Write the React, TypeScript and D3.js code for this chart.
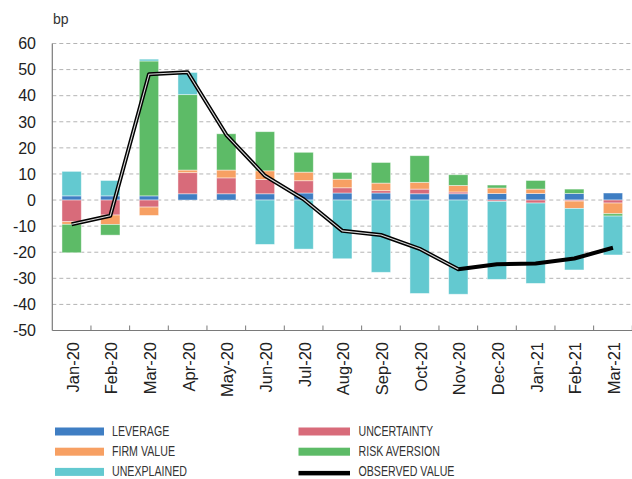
import React from "react";
import * as d3 from "d3";

const categories = ["Jan-20","Feb-20","Mar-20","Apr-20","May-20","Jun-20","Jul-20","Aug-20","Sep-20","Oct-20","Nov-20","Dec-20","Jan-21","Feb-21","Mar-21"];
const leverage = [1.6, 1.6, 1.6, 2.4, 2.4, 2.4, 2.7, 2.7, 2.7, 2.4, 2.4, 2.5, 2.5, 2.5, 2.7];
const uncertainty = [-8.3, -5.75, -2.7, 8.1, 6.1, 5.5, 4.7, 2.0, 0.9, 1.8, 0.7, -0.5, -1.15, -0.4, -1.15];
const firmValue = [-1.0, -3.6, -3.2, 1.0, 3.0, 3.3, 3.3, 3.3, 2.9, 2.6, 2.5, 2.1, 1.7, -2.8, -4.1];
const riskAversion = [-10.9, -4.1, 51.7, 28.9, 13.9, 15.0, 7.6, 2.6, 7.9, 10.2, 4.1, 1.15, 3.3, 1.7, -0.9];
const unexplained = [9.4, 5.9, 0.7, 8.5, 0, -17.0, -18.8, -22.5, -27.7, -35.8, -36.1, -29.9, -30.8, -23.6, -14.9];
const observed = [-9.3, -6.0, 48.2, 49.0, 25.0, 9.3, 0.3, -11.8, -13.4, -18.7, -26.5, -24.6, -24.3, -22.4, -18.3];
const yTicks = [60, 50, 40, 30, 20, 10, 0, -10, -20, -30, -40, -50];

const seriesKeys = ["leverage", "uncertainty", "firmValue", "riskAversion", "unexplained"];
const seriesLabels = ["LEVERAGE", "UNCERTAINTY", "FIRM VALUE", "RISK AVERSION", "UNEXPLAINED"];
const seriesColors = ["#3f7ec3", "#d86b7a", "#f7a063", "#5dbb67", "#63c9d0"];

const W = 632, H = 479;
const left = 52.3, right = 632.3, top = 43.5, bottom = 330.5;

export default function App() {
  const rows = categories.map((c, i) => ({
    cat: c,
    leverage: leverage[i],
    uncertainty: uncertainty[i],
    firmValue: firmValue[i],
    riskAversion: riskAversion[i],
    unexplained: unexplained[i],
  }));
  const x = d3.scaleBand().domain(categories).range([left, right]).paddingInner(0.5).paddingOuter(0.25);
  const xc = (c: string) => (x(c) as number) + x.bandwidth() / 2;
  const y = d3.scaleLinear().domain([-50, 60]).range([bottom, top]);
  const stack = d3.stack<any>().keys(seriesKeys).offset(d3.stackOffsetDiverging);
  const stacked = stack(rows);
  const line = d3.line<number>().x((_, i) => xc(categories[i])).y((d) => y(d));
  const step = (right - left) / categories.length;
  const font = "'Liberation Sans', Arial, Helvetica, sans-serif";

  const legendItems = [
    { label: seriesLabels[0], color: seriesColors[0], col: 0, row: 0 },
    { label: seriesLabels[1], color: seriesColors[1], col: 1, row: 0 },
    { label: seriesLabels[2], color: seriesColors[2], col: 0, row: 1 },
    { label: seriesLabels[3], color: seriesColors[3], col: 1, row: 1 },
    { label: seriesLabels[4], color: seriesColors[4], col: 0, row: 2 },
    { label: "OBSERVED VALUE", color: "#000", col: 1, row: 2, isLine: true },
  ];

  return (
    <svg width={W} height={H} style={{ position: "fixed", left: 0, top: 0, background: "#fff" }} fontFamily={font}>
      <text x={53} y={24} fontSize={14} fill="#333">bp</text>
      {yTicks.map((t) => (
        <g key={t}>
          {t !== -50 && (
            <line x1={left} x2={W} y1={y(t)} y2={y(t)} stroke="#b4b4b4" strokeWidth={1} strokeDasharray="4,3" />
          )}
          <text x={36} y={y(t)} dy="0.36em" textAnchor="end" fontSize={16} fill="#222">{t}</text>
        </g>
      ))}
      {stacked.map((s, si) => (
        <g key={s.key} fill={seriesColors[si]}>
          {s.map((d: any, i: number) => {
            const y0 = y(d[0]), y1 = y(d[1]);
            const h = Math.abs(y0 - y1);
            if (h < 0.01) return null;
            return (
              <rect key={i} x={x(categories[i])} width={x.bandwidth()} y={Math.min(y0, y1)} height={h}
                stroke="#ffffff" strokeOpacity={0.55} strokeWidth={0.8} />
            );
          })}
        </g>
      ))}
      <line x1={left} x2={left} y1={top} y2={bottom} stroke="#7a7a7a" strokeWidth={1.2} />
      <line x1={left} x2={W} y1={bottom} y2={bottom} stroke="#7a7a7a" strokeWidth={1.2} />
      {categories.map((c, i) => (
        <line key={c} x1={left + step * (i + 1)} x2={left + step * (i + 1)} y1={bottom} y2={bottom - 5} stroke="#7a7a7a" strokeWidth={1} />
      ))}
      <path d={line(observed) || ""} fill="none" stroke="#000" strokeWidth={4} strokeLinejoin="round" />
      <path d={line(observed.slice(0, 11)) || ""} fill="none" stroke="#d8d8d8" strokeWidth={1.1} strokeLinejoin="round" />
      {categories.map((c) => (
        <text key={c} transform={`translate(${xc(c) + 7},342) rotate(-90)`} textAnchor="end" fontSize={16.5} fill="#222">{c}</text>
      ))}
      {legendItems.map((it) => {
        const sx = it.col === 0 ? 55 : 298.5;
        const sw = it.col === 0 ? 49 : 51.5;
        const tx = it.col === 0 ? 112 : 358.5;
        const rowTop = 427.5 + it.row * 20.2;
        const base = 435.8 + it.row * 20;
        return (
          <g key={it.label}>
            {it.isLine ? (
              <rect x={sx} y={rowTop + 3} width={sw} height={4.5} fill="#000" />
            ) : (
              <rect x={sx} y={rowTop} width={sw} height={8} fill={it.color} />
            )}
            <text transform={`translate(${tx},${base}) scale(0.76,1)`} fontSize={14} fill="#333">{it.label}</text>
          </g>
        );
      })}
    </svg>
  );
}
